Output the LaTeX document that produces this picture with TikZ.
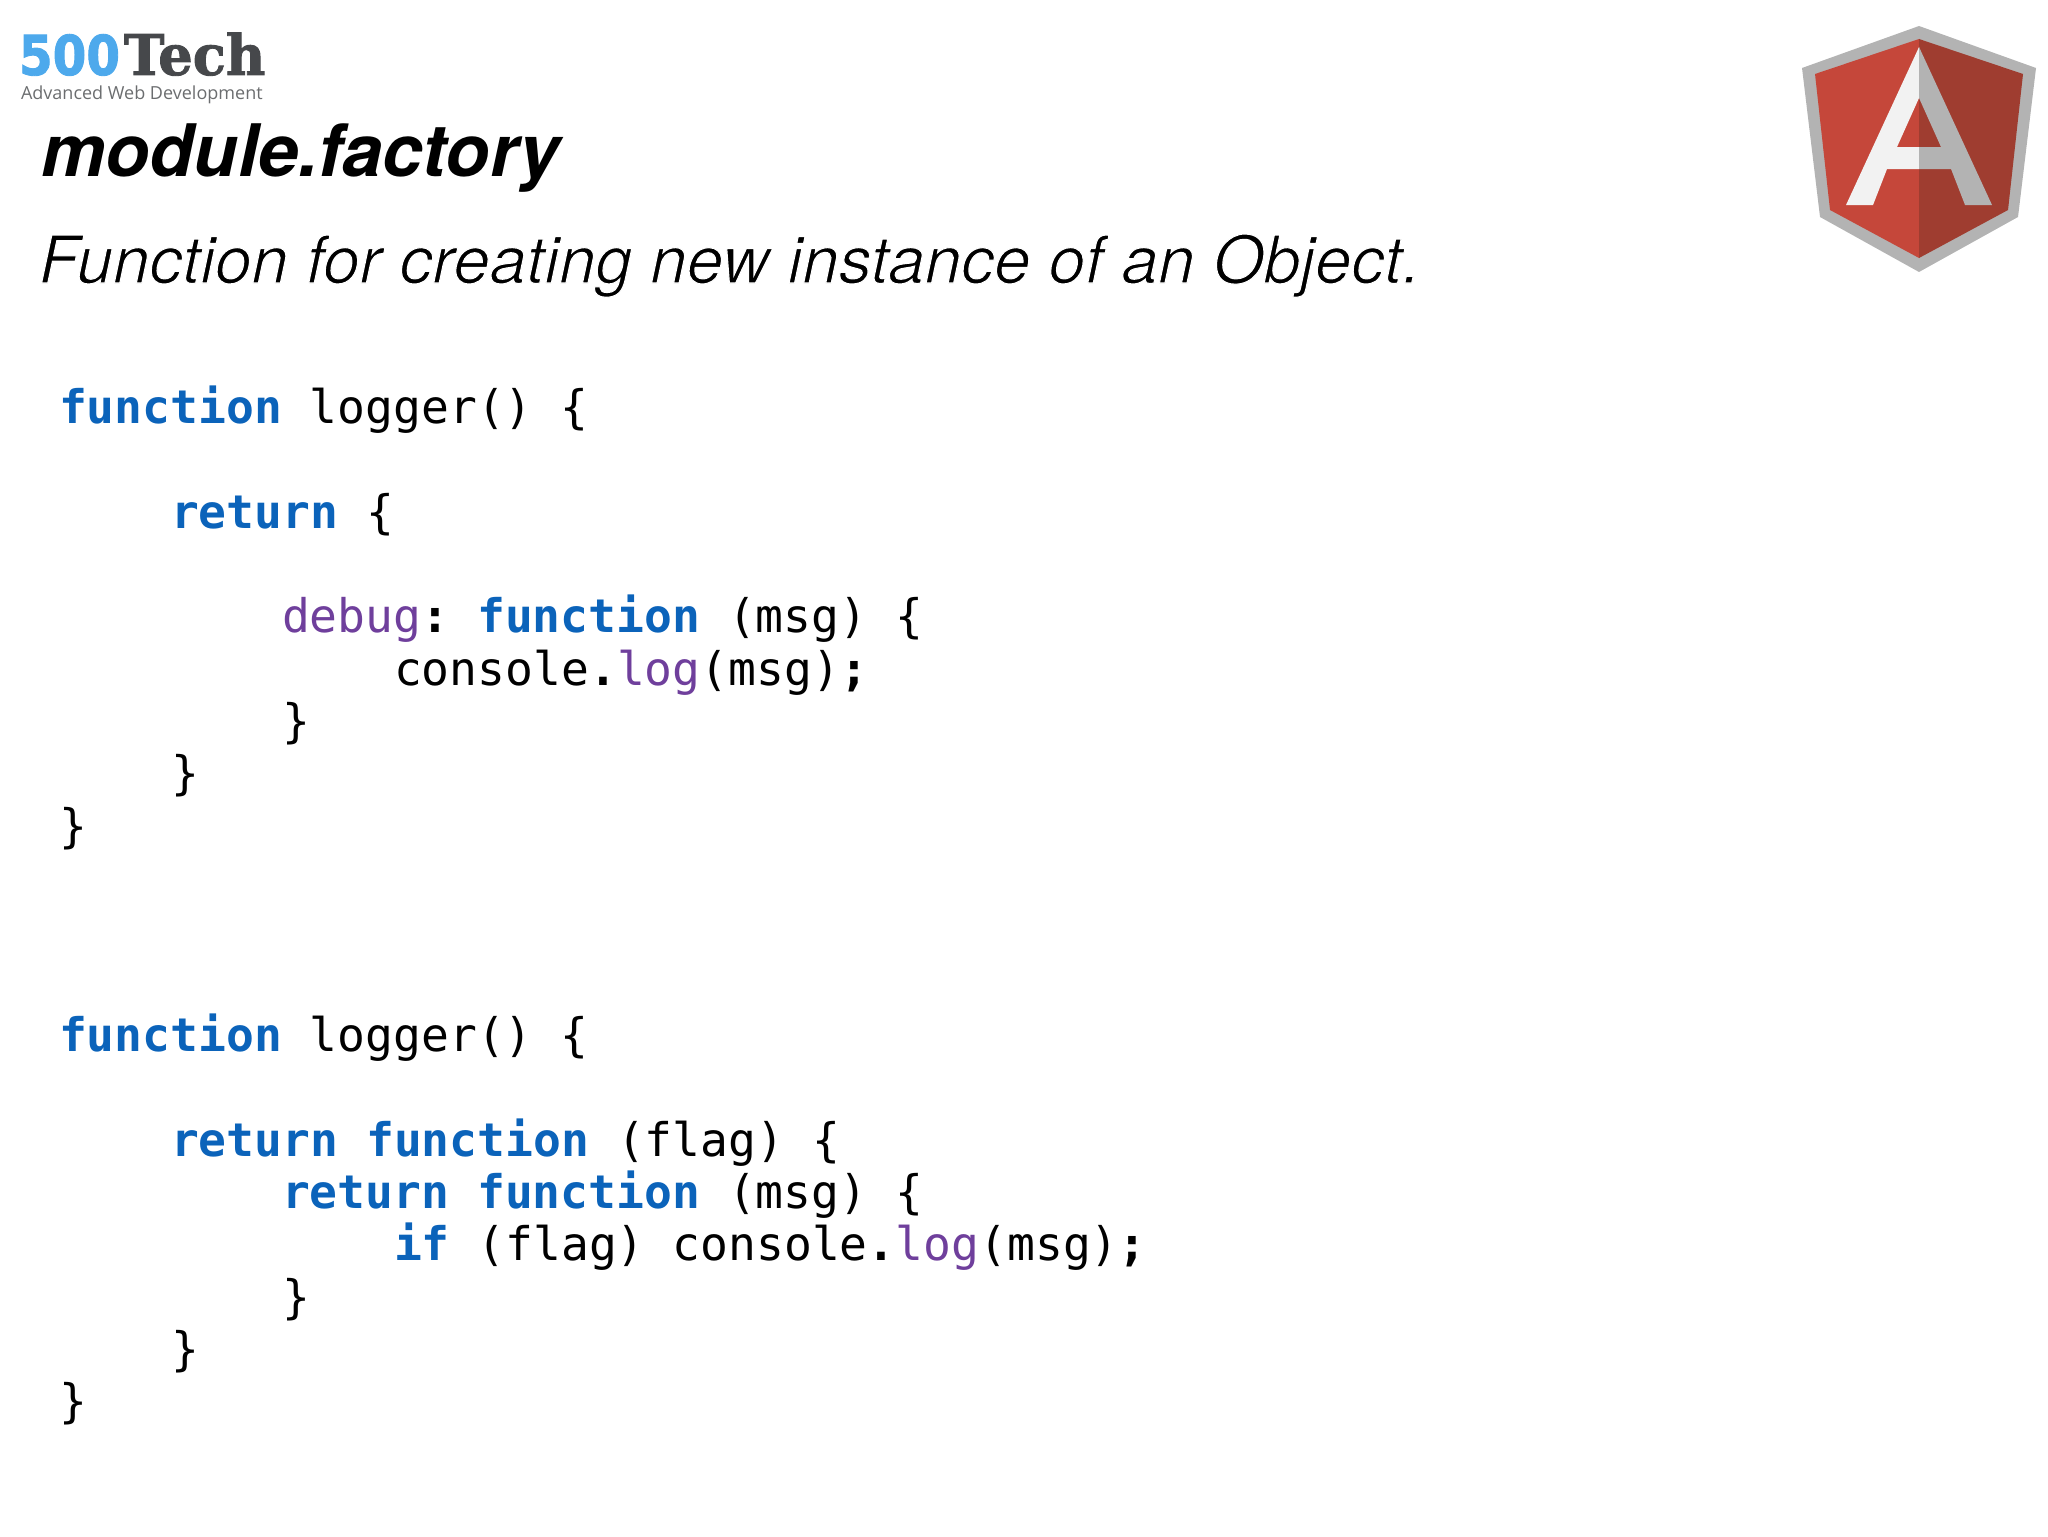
\documentclass[tikz,border=0pt]{standalone}
\usepackage{fontspec}
\setmainfont{TeX Gyre Heros}
\setmonofont{DejaVu Sans Mono}
\newfontfamily\logosans{Open Sans}
\newfontfamily\logoserif[FakeStretch=0.97,FakeBold=1.6]{DejaVu Serif Bold}
\newfontfamily\logoround[FakeStretch=0.88,FakeBold=1.6]{DejaVu Sans Bold}
\definecolor{kwblue}{HTML}{0B63BA}
\definecolor{propviolet}{HTML}{6F3F9C}
\definecolor{logoblue}{HTML}{4DA9EC}
\definecolor{logogray}{HTML}{46484B}
\definecolor{shieldgray}{HTML}{B3B3B3}
\definecolor{shieldred}{HTML}{C5473A}
\definecolor{shielddark}{HTML}{9F3D30}
\definecolor{awhite}{HTML}{F2F2F2}
\newcommand{\kw}[1]{\textcolor{kwblue}{\bfseries #1}}
\newcommand{\prop}[1]{\textcolor{propviolet}{#1}}
\newcommand{\pun}[1]{{\bfseries #1}}
% thin the oblique: white outline over the glyphs
\newcommand{\thinned}[1]{\special{pdf:code 2 Tr 1 1 1 RG 0.55 w}#1\special{pdf:code 0 Tr 0 0 0 RG}}
\tikzset{
  txt/.style={anchor=base west,inner sep=0pt,outer sep=0pt},
  code/.style={txt,font=\ttfamily\fontsize{23.15}{26}\selectfont}
}
\begin{document}
\begin{tikzpicture}[x=0.5pt,y=-0.5pt]
	\useasboundingbox (0,0) rectangle (2048,1536);

	% logo, top left
	\node[txt,font=\logoround\fontsize{27.5}{30}\selectfont,text=logoblue] (five) at (19,75) {500};
	\node[txt,font=\logoserif\fontsize{28}{30}\selectfont,text=logogray] (tech) at (124,75) {Tech};
	\node[txt,font=\logosans\fontsize{9}{11}\selectfont,text=logogray!80] (adv) at (21,99) {Advanced Web Development};

	% heading
	\node[txt,font=\bfseries\itshape\fontsize{36.2}{40}\selectfont] (title) at (41,176) {module.factory};
	\node[txt,font=\itshape\fontsize{32.8}{38}\selectfont] (subtitle) at (39,283) {\thinned{Function for creating new instance of an Object.}};

	% shield
	\fill[shieldgray] (1919,26) -- (2036,68) -- (2018,217) -- (1919,272) -- (1820,217) -- (1802,68) -- cycle;
	\fill[shieldred] (1919,39) -- (1815,74) -- (1830,210) -- (1919,258) -- cycle;
	\fill[shielddark] (1919,39) -- (2023,74) -- (2008,210) -- (1919,258) -- cycle;
	\fill[awhite] (1919,47) -- (1846,205) -- (1873,205) -- (1887,169) -- (1919,169) -- (1919,147) -- (1897,147) -- (1919,98) -- cycle;
	\fill[shieldgray] (1919,47) -- (1992,205) -- (1965,205) -- (1951,169) -- (1919,169) -- (1919,147) -- (1941,147) -- (1919,98) -- cycle;

	% first block
	\node[code] (a0) at (59,423) {\kw{function} logger() \{};
	\node[code] (a2) at (171,528) {\kw{return} \{};
	\node[code] (a4) at (282,632) {\prop{debug}\pun{:} \kw{function} (msg) \{};
	\node[code] (a5) at (394,685) {console\pun{.}\prop{log}(msg)\pun{;}};
	\node[code] (a6) at (282,737) {\}};
	\node[code] (a7) at (171,789) {\}};
	\node[code] (a8) at (59,842) {\}};

	% second block
	\node[code] (b0) at (59,1051) {\kw{function} logger() \{};
	\node[code] (b2) at (171,1156) {\kw{return} \kw{function} (flag) \{};
	\node[code] (b3) at (282,1208) {\kw{return} \kw{function} (msg) \{};
	\node[code] (b4) at (394,1260) {\kw{if} (flag) console\pun{.}\prop{log}(msg)\pun{;}};
	\node[code] (b5) at (282,1313) {\}};
	\node[code] (b6) at (171,1365) {\}};
	\node[code] (b7) at (59,1417) {\}};
\end{tikzpicture}
\end{document}
